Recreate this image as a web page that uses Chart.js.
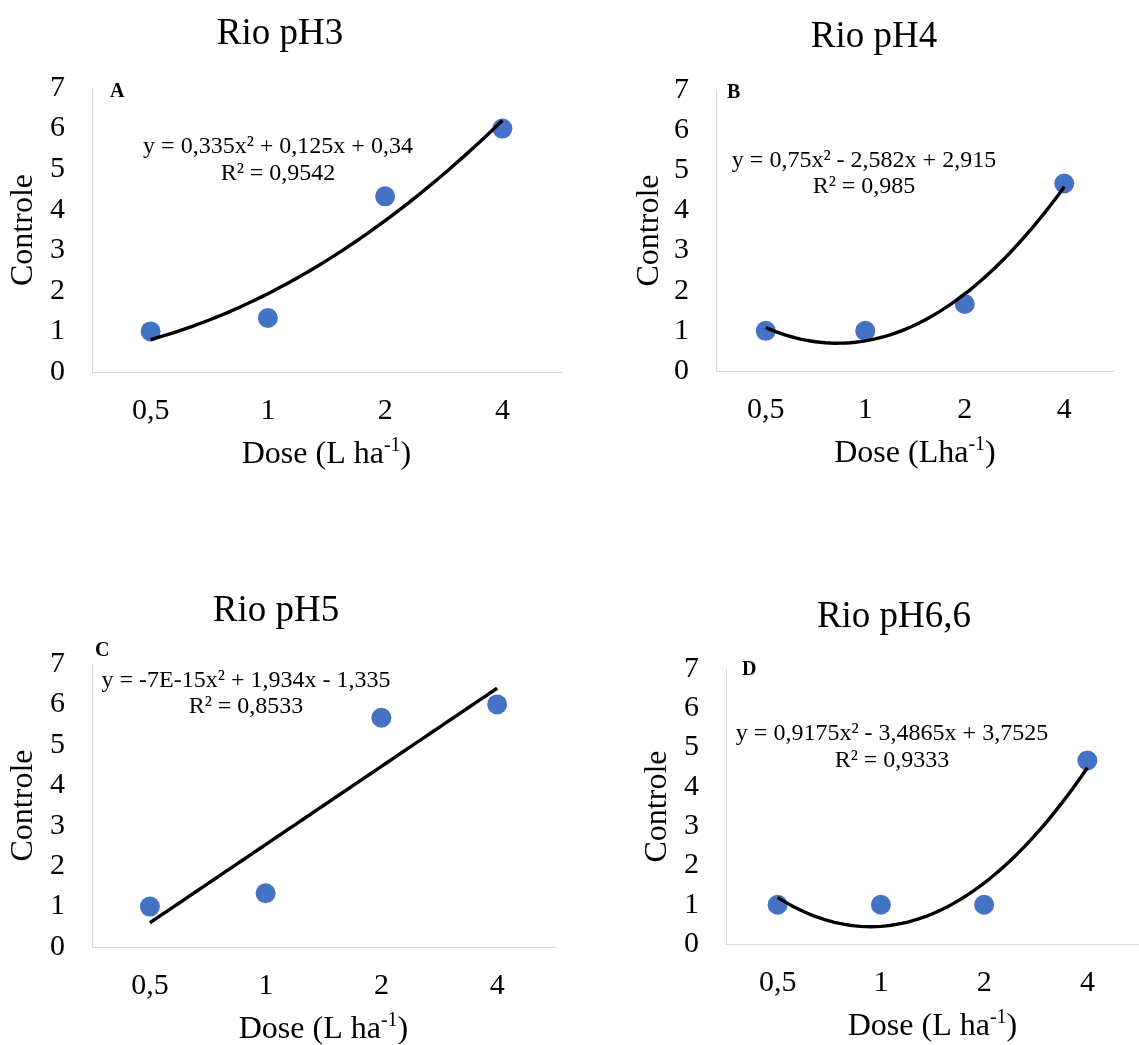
<!DOCTYPE html>
<html>
<head>
<meta charset="utf-8">
<script src="https://cdn.jsdelivr.net/npm/chart.js@4/dist/chart.umd.min.js"></script>
<style>
  html, body { margin: 0; padding: 0; background: #fff; }
  body { width: 1139px; height: 1045px; position: relative; overflow: hidden; }
  .panel { position: absolute; }
</style>
</head>
<body>
<div id="p0" class="panel"><canvas id="c0"></canvas></div>
<div id="p1" class="panel"><canvas id="c1"></canvas></div>
<div id="p2" class="panel"><canvas id="c2"></canvas></div>
<div id="p3" class="panel"><canvas id="c3"></canvas></div>
<script>
// ---------------- DATA ----------------
const doses = ['0,5', '1', '2', '4'];          // category tick labels
const xIndex = [1, 2, 3, 4];                    // category positions (Excel index)
const yTicks = [0, 1, 2, 3, 4, 5, 6, 7];

const controlA = [1, 1.33, 4.33, 6];
const controlB = [1, 1, 1.67, 4.67];
const controlC = [1, 1.33, 5.67, 6];
const controlD = [1, 1, 1, 4.67];

// polynomial trendline coefficients [a, b, c] : y = a x^2 + b x + c
const trendA = [0.335, 0.125, 0.34];
const trendB = [0.75, -2.582, 2.915];
const trendC = [-7e-15, 1.934, -1.335];
const trendD = [0.9175, -3.4865, 3.7525];

const titles = ['Rio pH3', 'Rio pH4', 'Rio pH5', 'Rio pH6,6'];
const letters = ['A', 'B', 'C', 'D'];
const equations = [
  'y = 0,335x² + 0,125x + 0,34',
  'y = 0,75x² - 2,582x + 2,915',
  'y = -7E-15x² + 1,934x - 1,335',
  'y = 0,9175x² - 3,4865x + 3,7525'
];
const r2Labels = ['R² = 0,9542', 'R² = 0,985', 'R² = 0,8533', 'R² = 0,9333'];
const yTitle = 'Controle';
const xTitleMain = ['Dose (L ha', 'Dose (Lha', 'Dose (L ha', 'Dose (L ha'];
const xTitleSup = '-1';
const xTitleEnd = ')';

const seriesList = [controlA, controlB, controlC, controlD];
const trendList = [trendA, trendB, trendC, trendD];

// ---------------- LAYOUT (page coordinates) ----------------
const layouts = [
  {left: 0,   top: 0,   w: 569, h: 500, area: {l: 92,  r: 561,  t: 88,  b: 372}, titleX: 280, titleY: 44,  letterX: 110, letterY: 97,  eqX: 278, eqY: [153, 180], yTitleX: 24},
  {left: 570, top: 0,   w: 569, h: 500, area: {l: 716, r: 1114, t: 90,  b: 371}, titleX: 874, titleY: 47,  letterX: 727, letterY: 98,  eqX: 864, eqY: [167, 193], yTitleX: 650},
  {left: 0,   top: 520, w: 569, h: 525, area: {l: 92,  r: 555,  t: 664, b: 947}, titleX: 276, titleY: 621, letterX: 95,  letterY: 656, eqX: 246, eqY: [687, 713], yTitleX: 24},
  {left: 570, top: 520, w: 569, h: 525, area: {l: 726, r: 1139, t: 669, b: 944}, titleX: 894, titleY: 627, letterX: 742, letterY: 675, eqX: 892, eqY: [740, 767], yTitleX: 658}
];

const SERIF = '"Liberation Serif", "Times New Roman", serif';
const TICK_SIZE = 30;
const AXIS_TITLE_SIZE = 32;
const TITLE_SIZE = 37;
const EQ_SIZE = 24;
const LETTER_SIZE = 20;
const POINT_COLOR = '#4472C4';
const AXIS_COLOR = '#d9d9d9';

function trendPoints(coef) {
  const pts = [];
  const x0 = xIndex[0], x1 = xIndex[xIndex.length - 1];
  const n = 60;
  for (let i = 0; i <= n; i++) {
    const x = x0 + (x1 - x0) * i / n;
    pts.push({x: x, y: coef[0] * x * x + coef[1] * x + coef[2]});
  }
  return pts;
}

function makeChart(i) {
  const L = layouts[i];
  const div = document.getElementById('p' + i);
  div.style.left = L.left + 'px';
  div.style.top = L.top + 'px';
  div.style.width = L.w + 'px';
  div.style.height = L.h + 'px';

  const yAxisWidth = L.area.l - L.left;
  const xAxisHeight = (L.top + L.h) - L.area.b;
  const padTop = L.area.t - L.top;
  const padRight = (L.left + L.w) - L.area.r;
  const lineH = AXIS_TITLE_SIZE * 1.2;
  const yTitlePad = (L.yTitleX - L.left) - lineH / 2;

  const annot = {
    id: 'annot' + i,
    afterDraw(chart) {
      const ctx = chart.ctx;
      const ca = chart.chartArea;
      ctx.save();
      ctx.fillStyle = '#000';
      ctx.textBaseline = 'alphabetic';
      // chart title
      ctx.font = TITLE_SIZE + 'px ' + SERIF;
      ctx.textAlign = 'center';
      ctx.fillText(titles[i], L.titleX - L.left, L.titleY - L.top);
      // panel letter
      ctx.font = 'bold ' + LETTER_SIZE + 'px ' + SERIF;
      ctx.textAlign = 'left';
      ctx.fillText(letters[i], L.letterX - L.left, L.letterY - L.top);
      // equation
      ctx.font = EQ_SIZE + 'px ' + SERIF;
      ctx.textAlign = 'center';
      ctx.fillText(equations[i], L.eqX - L.left, L.eqY[0] - L.top);
      ctx.fillText(r2Labels[i], L.eqX - L.left, L.eqY[1] - L.top);
      // x axis title with superscript
      const mainFont = AXIS_TITLE_SIZE + 'px ' + SERIF;
      const supFont = Math.round(AXIS_TITLE_SIZE * 0.62) + 'px ' + SERIF;
      ctx.font = mainFont;
      const w1 = ctx.measureText(xTitleMain[i]).width;
      const w3 = ctx.measureText(xTitleEnd).width;
      ctx.font = supFont;
      const w2 = ctx.measureText(xTitleSup).width;
      const total = w1 + w2 + w3;
      const cx = (ca.left + ca.right) / 2;
      const by = ca.bottom + 91;
      let x = cx - total / 2;
      ctx.textAlign = 'left';
      ctx.font = mainFont;
      ctx.fillText(xTitleMain[i], x, by);
      x += w1;
      ctx.font = supFont;
      ctx.fillText(xTitleSup, x, by - AXIS_TITLE_SIZE * 0.38);
      x += w2;
      ctx.font = mainFont;
      ctx.fillText(xTitleEnd, x, by);
      ctx.restore();
    }
  };

  const series = seriesList[i];
  return new Chart(document.getElementById('c' + i), {
    type: 'scatter',
    data: {
      datasets: [
        {
          label: 'Tendência',
          data: trendPoints(trendList[i]),
          showLine: true,
          borderColor: '#000',
          borderWidth: 3.4,
          pointRadius: 0,
          pointHoverRadius: 0,
          tension: 0,
          fill: false
        },
        {
          label: 'Controle',
          data: xIndex.map((x, k) => ({x: x, y: series[k]})),
          showLine: false,
          pointRadius: 10,
          pointHoverRadius: 10,
          backgroundColor: POINT_COLOR,
          borderWidth: 0
        }
      ]
    },
    options: {
      responsive: true,
      maintainAspectRatio: false,
      animation: false,
      events: [],
      layout: {
        autoPadding: false,
        padding: {top: padTop, right: padRight, left: 0, bottom: 0}
      },
      plugins: {
        legend: {display: false},
        tooltip: {enabled: false},
        title: {display: false}
      },
      scales: {
        x: {
          type: 'linear',
          min: 0.5,
          max: 4.5,
          afterBuildTicks: (s) => { s.ticks = xIndex.map(v => ({value: v})); },
          afterFit: (s) => { s.height = xAxisHeight; },
          grid: {display: true, drawOnChartArea: false, drawTicks: false},
          border: {display: true, color: AXIS_COLOR, width: 1},
          ticks: {
            autoSkip: false,
            maxRotation: 0,
            padding: 21,
            color: '#000',
            font: {family: SERIF, size: TICK_SIZE},
            callback: (v) => doses[xIndex.indexOf(v)]
          },
          title: {display: false}
        },
        y: {
          type: 'linear',
          min: yTicks[0],
          max: yTicks[yTicks.length - 1],
          afterBuildTicks: (s) => { s.ticks = yTicks.map(v => ({value: v})); },
          afterFit: (s) => { s.width = yAxisWidth; },
          grid: {display: true, drawOnChartArea: false, drawTicks: false},
          border: {display: true, color: AXIS_COLOR, width: 1},
          ticks: {
            padding: 27,
            color: '#000',
            font: {family: SERIF, size: TICK_SIZE}
          },
          title: {
            display: true,
            text: yTitle,
            color: '#000',
            font: {family: SERIF, size: AXIS_TITLE_SIZE},
            padding: {top: yTitlePad, bottom: 0}
          }
        }
      }
    },
    plugins: [annot]
  });
}

for (let i = 0; i < 4; i++) makeChart(i);
</script>
</body>
</html>
